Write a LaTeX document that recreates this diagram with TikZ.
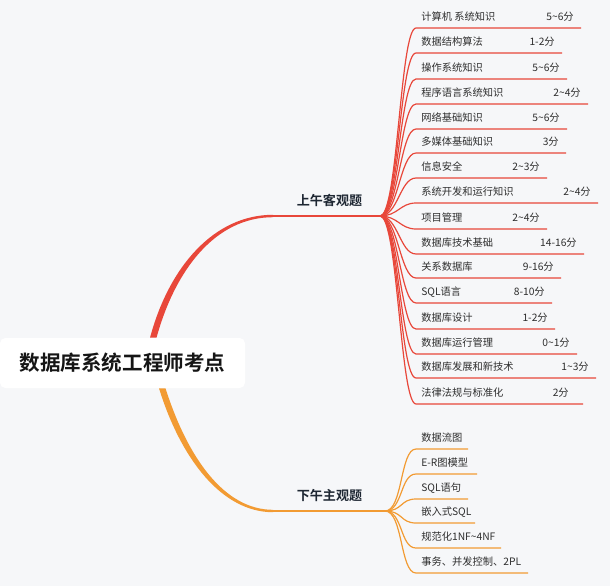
\documentclass[tikz,border=0pt]{standalone}
\usepackage{fontspec}
\setmainfont{Noto Sans CJK SC}[BoldFont={Noto Sans CJK SC Bold}]
\usetikzlibrary{calc}

\definecolor{paper}{HTML}{F6F7F9}
\definecolor{amred}{HTML}{E8473A}
\definecolor{pmorange}{HTML}{F29B33}
\definecolor{titlecol}{HTML}{151515}
\definecolor{branchcol}{HTML}{1E2733}
\definecolor{leafcol}{HTML}{2E2E2E}

\newcommand{\til}{\textasciitilde}

\begin{document}
\begin{tikzpicture}[
    x=0.75pt, y=-0.75pt,
    root/.style={
        fill=white, rounded corners=4pt, minimum width=183.75pt,
        minimum height=37.5pt, text=titlecol,
        font=\fontsize{15.4}{18}\selectfont\bfseries
    },
    branch/.style={text=branchcol, font=\fontsize{9.8}{12}\selectfont\bfseries},
    leaf/.style={
        anchor=south west, inner xsep=3.75pt, inner ysep=3.7pt,
        text height=6pt, text depth=1.5pt, text=leafcol,
        font=\fontsize{7.7}{9}\selectfont
    },
    score/.style={leaf, anchor=south east, inner xsep=5.25pt},
    amline/.style={draw=amred, line width=0.9pt},
    pmline/.style={draw=pmorange, line width=0.9pt}
]

% Background
\fill[paper] (0,0) rectangle (610,586);

% -------------------------
% Root and Branch Points
% -------------------------

\node[root] (Root) at (122.5,363) {数据库系统工程师考点};

\coordinate (AMJ) at (380,216);
\coordinate (PMJ) at (385,511);

\node[branch] (AM) at (329.5,200) {上午客观题};
\node[branch] (PM) at (329.5,495) {下午主观题};

% Root -> AM (tapered)
\fill[amred] ($(Root.north)+(27.5,0)$) .. controls +(19,-71) and +(-59,0) .. (273,214.8)
    -- (273,217.2) .. controls +(-57,0) and +(19,-69) .. ($(Root.north)+(34,0)$) -- cycle;
\draw[amred, line width=1.6pt] (272,216) -- (AMJ);

% Root -> PM (tapered)
\fill[pmorange] ($(Root.south)+(36.5,0)$) .. controls +(22,71) and +(-51,0) .. (273,512.2)
    -- (273,509.8) .. controls +(-49,0) and +(22,69) .. ($(Root.south)+(43,0)$) -- cycle;
\draw[pmorange, line width=1.6pt] (272,511) -- (PMJ);

% -------------------------
% Morning Topics
% -------------------------

\node[leaf] (AM1) at (416,28) {计算机 系统知识};
\node[score] (AM1S) at (581,28) {5\til6分};
\draw[amline] (AMJ) .. controls +(18,0) and +(-16,0) .. (AM1.south west) -- (AM1S.south east);

\node[leaf] (AM2) at (416,53) {数据结构算法};
\node[score] (AM2S) at (562,53) {1-2分};
\draw[amline] (AMJ) .. controls +(18,0) and +(-16,0) .. (AM2.south west) -- (AM2S.south east);

\node[leaf] (AM3) at (416,79) {操作系统知识};
\node[score] (AM3S) at (567,79) {5\til6分};
\draw[amline] (AMJ) .. controls +(18,0) and +(-16,0) .. (AM3.south west) -- (AM3S.south east);

\node[leaf] (AM4) at (416,104) {程序语言系统知识};
\node[score] (AM4S) at (588,104) {2\til4分};
\draw[amline] (AMJ) .. controls +(18,0) and +(-16,0) .. (AM4.south west) -- (AM4S.south east);

\node[leaf] (AM5) at (416,129) {网络基础知识};
\node[score] (AM5S) at (567,129) {5\til6分};
\draw[amline] (AMJ) .. controls +(18,0) and +(-16,0) .. (AM5.south west) -- (AM5S.south east);

\node[leaf] (AM6) at (416,153) {多媒体基础知识};
\node[score] (AM6S) at (566,153) {3分};
\draw[amline] (AMJ) .. controls +(18,0) and +(-16,0) .. (AM6.south west) -- (AM6S.south east);

\node[leaf] (AM7) at (416,178) {信息安全};
\node[score] (AM7S) at (547,178) {2\til3分};
\draw[amline] (AMJ) .. controls +(18,0) and +(-16,0) .. (AM7.south west) -- (AM7S.south east);

\node[leaf] (AM8) at (416,203) {系统开发和运行知识};
\node[score] (AM8S) at (598,203) {2\til4分};
\draw[amline] (AMJ) .. controls +(18,0) and +(-16,0) .. (AM8.south west) -- (AM8S.south east);

\node[leaf] (AM9) at (416,229) {项目管理};
\node[score] (AM9S) at (547,229) {2\til4分};
\draw[amline] (AMJ) .. controls +(18,0) and +(-16,0) .. (AM9.south west) -- (AM9S.south east);

\node[leaf] (AM10) at (416,254) {数据库技术基础};
\node[score] (AM10S) at (584,254) {14-16分};
\draw[amline] (AMJ) .. controls +(18,0) and +(-16,0) .. (AM10.south west) -- (AM10S.south east);

\node[leaf] (AM11) at (416,278) {关系数据库};
\node[score] (AM11S) at (561,278) {9-16分};
\draw[amline] (AMJ) .. controls +(18,0) and +(-16,0) .. (AM11.south west) -- (AM11S.south east);

\node[leaf] (AM12) at (416,303) {SQL语言};
\node[score] (AM12S) at (552,303) {8-10分};
\draw[amline] (AMJ) .. controls +(18,0) and +(-16,0) .. (AM12.south west) -- (AM12S.south east);

\node[leaf] (AM13) at (416,329) {数据库设计};
\node[score] (AM13S) at (555,329) {1-2分};
\draw[amline] (AMJ) .. controls +(18,0) and +(-16,0) .. (AM13.south west) -- (AM13S.south east);

\node[leaf] (AM14) at (416,354) {数据库运行管理};
\node[score] (AM14S) at (577,354) {0\til1分};
\draw[amline] (AMJ) .. controls +(18,0) and +(-16,0) .. (AM14.south west) -- (AM14S.south east);

\node[leaf] (AM15) at (416,378) {数据库发展和新技术};
\node[score] (AM15S) at (596,378) {1\til3分};
\draw[amline] (AMJ) .. controls +(18,0) and +(-16,0) .. (AM15.south west) -- (AM15S.south east);

\node[leaf] (AM16) at (416,404) {法律法规与标准化};
\node[score, inner xsep=10.5pt] (AM16S) at (583,404) {2分};
\draw[amline] (AMJ) .. controls +(18,0) and +(-16,0) .. (AM16.south west) -- (AM16S.south east);

% -------------------------
% Afternoon Topics
% -------------------------

\node[leaf] (PM1) at (416,449) {数据流图};
\draw[pmline] (PMJ) .. controls +(18,0) and +(-16,0) .. (PM1.south west) -- ++(52,0);

\node[leaf] (PM2) at (416,474) {E-R图模型};
\draw[pmline] (PMJ) .. controls +(18,0) and +(-16,0) .. (PM2.south west) -- ++(61,0);

\node[leaf] (PM3) at (416,499) {SQL语句};
\draw[pmline] (PMJ) .. controls +(18,0) and +(-16,0) .. (PM3.south west) -- ++(52,0);

\node[leaf] (PM4) at (416,523) {嵌入式SQL};
\draw[pmline] (PMJ) .. controls +(18,0) and +(-16,0) .. (PM4.south west) -- ++(59,0);

\node[leaf] (PM5) at (416,548) {规范化1NF\til4NF};
\draw[pmline] (PMJ) .. controls +(18,0) and +(-16,0) .. (PM5.south west) -- ++(85,0);

\node[leaf] (PM6) at (416,573) {事务、并发控制、2PL};
\draw[pmline] (PMJ) .. controls +(18,0) and +(-16,0) .. (PM6.south west) -- ++(112,0);

\end{tikzpicture}
\end{document}
